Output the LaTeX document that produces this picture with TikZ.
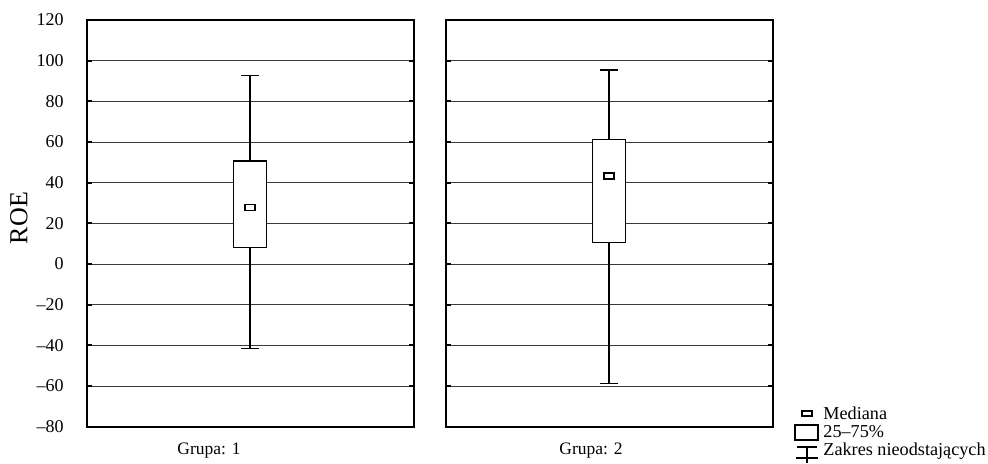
\documentclass[tikz,border=0pt]{standalone}
\usepackage{fontspec}
\setmainfont{Liberation Serif}
\usepackage{tikz}
\usetikzlibrary{positioning,calc}
\definecolor{gridgray}{HTML}{3a3a3a}

\begin{document}
\begin{tikzpicture}[
  x=0.5pt, y=-0.5pt,
  declare function={py(\v)=426.7-(\v+80)*2.0335;},
  frame/.style={draw=black, line width=0.8pt},
  gridline/.style={draw=gridgray, line width=0.5pt},
  tickmark/.style={draw=black, line width=0.9pt},
  boxstyle/.style={draw=black, fill=white, line width=0.75pt},
  whisker/.style={draw=black, line width=0.6pt},
  ticklabel/.style={anchor=east, inner sep=0pt, font=\fontsize{9}{10}\selectfont},
  label/.style={inner sep=0pt, font=\fontsize{8.75}{9}\selectfont},
  legendtext/.style={anchor=west, inner sep=0pt, font=\fontsize{9.1}{10}\selectfont}
]
\useasboundingbox (0,0) rectangle (988,463);

% panels with grid
\foreach \xa/\xb in {87/414, 446/773} {
  \foreach \v in {-60,-40,...,100} {
    \draw[gridline] (\xa,{py(\v)}) -- (\xb,{py(\v)});
    \draw[tickmark] (\xa,{py(\v)}) -- ++(5,0);
    \draw[tickmark] (\xb,{py(\v)}) -- ++(-5,0);
  }
  \draw[frame] (\xa,{py(120)}) rectangle (\xb,{py(-80)});
}

% axis labels
\foreach \v/\t in {120/120, 100/100, 80/80, 60/60, 40/40, 20/20, 0/0, -20/–20, -40/–40, -60/–60, -80/–80}
  \node[ticklabel] (tick\v) at (64,{py(\v)}) {\t};
\node[label, rotate=90, font=\fontsize{13}{14}\selectfont] (ylab) at (19,218) {ROE};
\node[label] (grp1) at (209,451) {Grupa: 1};
\node[label] (grp2) at (591,451) {Grupa: 2};

% box plots
\foreach \cx/\lo/\qa/\med/\qb/\hi in {250/-41.6/8.2/27.9/50.7/92.6, 609/-58.7/10.5/43.3/61.2/95.4} {
  \draw[whisker] (\cx,{py(\lo)}) -- (\cx,{py(\hi)});
  \draw[whisker] (\cx-9,{py(\lo)}) -- (\cx+9,{py(\lo)});
  \draw[whisker] (\cx-9,{py(\hi)}) -- (\cx+9,{py(\hi)});
  \draw[boxstyle] (\cx-16.5,{py(\qa)}) rectangle (\cx+16.5,{py(\qb)});
  \draw[boxstyle] (\cx-5,{py(\med)-3}) rectangle (\cx+5,{py(\med)+3});
}

% legend
\draw[boxstyle] (802,411) rectangle (812,416);
\node[legendtext] (legmed) at (823,413) {Mediana};
\draw[boxstyle] (795,425) rectangle (818,440);
\node[legendtext] (legbox) at (823,432) {25–75\%};
\draw[whisker] (797,447) -- (817,447);
\draw[whisker] (807,447) -- (807,463);
\draw[whisker] (796,458) -- (818,458);
\node[legendtext] (legwhisk) at (823,451) {Zakres nieodstających};
\end{tikzpicture}
\end{document}
